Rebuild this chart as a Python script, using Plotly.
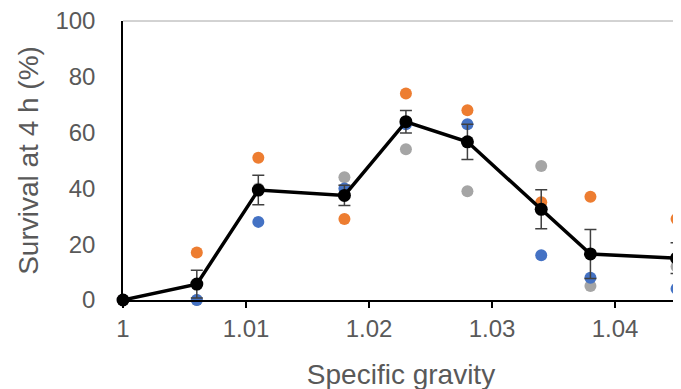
import plotly.graph_objects as go

specific_gravity = [1.000, 1.006, 1.011, 1.018, 1.023, 1.028, 1.034, 1.038, 1.045]
rep_blue = [0, 0, 28, 40, 63, 63, 16, 8, 4]
rep_orange = [0, 17, 51, 29, 74, 68, 35, 37, 29]
rep_gray = [0, 0, 40, 44, 54, 39, 48, 5, 12]
mean_survival = [0, 5.7, 39.4, 37.5, 63.9, 56.7, 32.5, 16.5, 15.0]
mean_error = [0, 5.0, 5.3, 3.6, 4.0, 6.3, 7.0, 8.8, 5.5]

x_tickvals = [1.00, 1.01, 1.02, 1.03, 1.04]
x_ticktext = ["1", "1.01", "1.02", "1.03", "1.04"]
y_tickvals = [0, 20, 40, 60, 80, 100]

fig = go.Figure()

for vals, col in [(rep_gray, "#A5A5A5"), (rep_orange, "#ED7D31"), (rep_blue, "#4472C4")]:
    fig.add_trace(go.Scatter(
        x=specific_gravity, y=vals, mode="markers",
        marker=dict(color=col, size=12, line=dict(width=0)),
        cliponaxis=False, showlegend=False,
    ))

fig.add_trace(go.Scatter(
    x=specific_gravity, y=mean_survival, mode="lines+markers",
    line=dict(color="black", width=3.5),
    marker=dict(color="black", size=13),
    error_y=dict(type="data", array=mean_error, visible=True,
                 color="#404040", thickness=1.5, width=6),
    cliponaxis=False, showlegend=False,
))

# light plot-area border (top and right)
fig.add_shape(type="line", xref="paper", yref="paper", x0=0, x1=1, y0=1, y1=1,
              line=dict(color="#A6A6A6", width=1), layer="above")
fig.add_shape(type="line", xref="paper", yref="paper", x0=1, x1=1, y0=0, y1=1,
              line=dict(color="#A6A6A6", width=1), layer="above")

font_family = "Liberation Sans, Arial, sans-serif"

fig.update_layout(
    width=681, height=389,
    margin=dict(l=115, r=10, t=13, b=97),
    paper_bgcolor="white", plot_bgcolor="white",
    font=dict(family=font_family, color="#595959"),
    xaxis=dict(
        range=[1.0, 1.0452], tickvals=x_tickvals, ticktext=x_ticktext,
        automargin=False, ticklabeloverflow="allow",
        showgrid=False, zeroline=False,
        showline=True, linecolor="black", linewidth=1.5,
        ticks="outside", ticklen=6, tickcolor="black", tickwidth=1.5,
        tickfont=dict(size=24, color="#595959"),
        title=dict(text="Specific gravity", font=dict(size=28, color="#595959"), standoff=24),
    ),
    yaxis=dict(
        range=[0, 100], tickvals=y_tickvals,
        automargin=False, ticklabeloverflow="allow",
        showgrid=False, zeroline=False,
        showline=True, linecolor="black", linewidth=1.5,
        ticks="", ticklabelstandoff=21,
        tickfont=dict(size=24, color="#595959"),
        title=dict(text="Survival at 4 h (%)", font=dict(size=28, color="#595959"), standoff=9),
    ),
)

fig.write_html("out.html")
